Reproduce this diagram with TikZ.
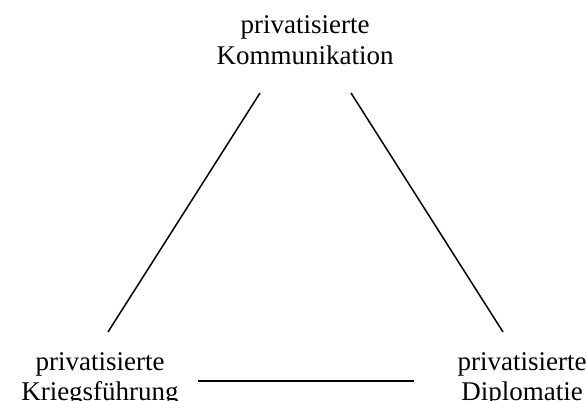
\documentclass[tikz,border=0pt]{standalone}
\usepackage{fontspec}
\setmainfont{Liberation Serif}

\begin{document}
\begin{tikzpicture}[x=1pt, y=1pt,
	label/.style={align=center, inner sep=0pt, font=\fontsize{27}{30.5}\selectfont},
	side/.style={line width=1.5pt}]
	\useasboundingbox (0,0) rectangle (586,401);
	
	\node[label] (komm) at (305,361) {privatisierte\\Kommunikation};
	\node[label] (krieg) at (100,21.5) {privatisierte\\Kriegsführung};
	\node[label] (dipl) at (522,21.5) {privatisierte\\Diplomatie};
	
	\coordinate (komm-l) at (260,308);
	\coordinate (komm-r) at (351,308);
	\coordinate (krieg-o) at (108,69);
	\coordinate (krieg-r) at (198,20);
	\coordinate (dipl-o) at (503,69);
	\coordinate (dipl-l) at (414,20);
	
	\draw[side] (krieg-o) -- (komm-l);
	\draw[side] (komm-r) -- (dipl-o);
	\draw[side] (krieg-r) -- (dipl-l);
\end{tikzpicture}
\end{document}
